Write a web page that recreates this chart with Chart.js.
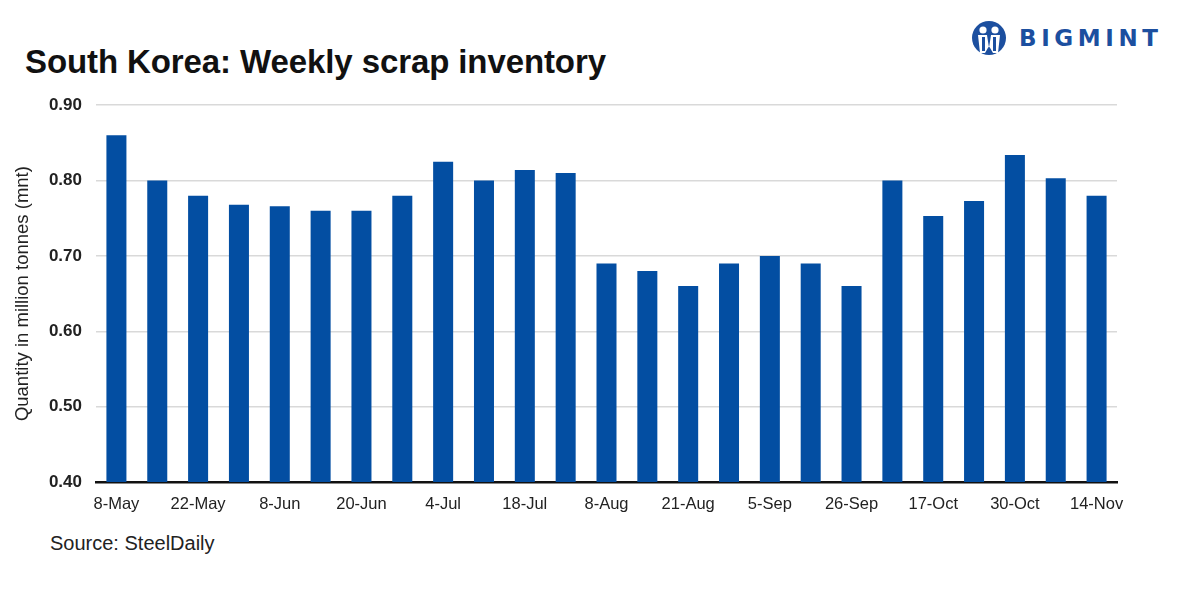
<!DOCTYPE html>
<html>
<head>
<meta charset="utf-8">
<script src="https://cdn.jsdelivr.net/npm/chart.js@4"></script>
<style>
    body { margin: 0; width: 1181px; height: 590px; background: #fff; position: relative; overflow: hidden; font-family: 'Liberation Sans', Arial, sans-serif; }
    #title { position: absolute; left: 25px; top: 43px; font-size: 33px; font-weight: bold; color: #111; letter-spacing: -0.1px; }
    #source { position: absolute; left: 50px; top: 532px; font-size: 20px; color: #222; }
    #logo { position: absolute; left: 971px; top: 20px; display: flex; align-items: center; }
    #logo span { font-size: 23px; font-weight: bold; color: #1c4f9f; letter-spacing: 4.6px; margin-left: 12px; font-family: 'DejaVu Sans', sans-serif; }
    #wrap { position: absolute; left: 0; top: 81px; width: 1181px; height: 439px; }
</style>
</head>
<body>
<div id="title">South Korea: Weekly scrap inventory</div>
<div id="logo">
    <svg width="36" height="36" viewBox="0 0 36 36">
        <circle cx="18" cy="18" r="17" fill="#1c4f9f"/>
        <circle cx="12" cy="10" r="3.6" fill="#fff"/>
        <circle cx="24" cy="10" r="3.6" fill="#fff"/>
        <path d="M7 15 L16 15 L18 28 L20 15 L29 15 L27 33 L22 33 L18 26 L14 33 L9 33 Z" fill="#fff"/>
        <path d="M11 17 L14 17 L14 31 L11 31 Z M22 17 L25 17 L25 31 L22 31 Z" fill="#1c4f9f"/>
    </svg>
    <span>BIGMINT</span>
</div>
<div id="wrap"><canvas id="chart"></canvas></div>
<div id="source">Source: SteelDaily</div>
<script>
// 주간 날짜 (레이블 없는 주는 빈 문자열)
const weeks = ['8-May', '', '22-May', '', '8-Jun', '', '20-Jun', '', '4-Jul', '', '18-Jul', '', '8-Aug',
    '', '21-Aug', '', '5-Sep', '', '26-Sep', '', '17-Oct', '', '30-Oct', '', '14-Nov'];
const inventory = [0.86, 0.80, 0.78, 0.768, 0.766, 0.76, 0.76, 0.78, 0.825, 0.80, 0.814, 0.81, 0.69,
    0.68, 0.66, 0.69, 0.70, 0.69, 0.66, 0.80, 0.753, 0.773, 0.834, 0.803, 0.78];
const yTicks = [0.40, 0.50, 0.60, 0.70, 0.80, 0.90];

const ctx = document.getElementById('chart');
new Chart(ctx, {
    type: 'bar',
    data: {
        labels: weeks,
        datasets: [{
            label: 'Inventory',
            data: inventory,
            backgroundColor: '#034ea2',
            categoryPercentage: 1,
            barPercentage: 0.49
        }]
    },
    options: {
        responsive: true,
        maintainAspectRatio: false,
        animation: false,
        layout: { padding: { left: 12, right: 64, top: 6, bottom: 8 } },
        plugins: {
            legend: { display: false },
            tooltip: { enabled: false }
        },
        scales: {
            x: {
                grid: { display: false },
                border: { display: true, color: '#111', width: 2.5 },
                ticks: {
                    autoSkip: false,
                    maxRotation: 0,
                    padding: 5,
                    color: '#222',
                    font: { family: "'Liberation Sans', Arial, sans-serif", size: 16.5 }
                },
                afterFit: (scale) => { scale.height = 30; }
            },
            y: {
                min: yTicks[0],
                max: yTicks[yTicks.length - 1],
                afterBuildTicks: (scale) => { scale.ticks = yTicks.map(v => ({ value: v })); },
                grid: { color: '#d9d9d9', lineWidth: 1.5, drawTicks: false },
                border: { display: false },
                ticks: {
                    padding: 14,
                    color: '#222',
                    font: { family: "'Liberation Sans', Arial, sans-serif", size: 17, weight: 'bold' },
                    callback: (v) => Number(v).toFixed(2)
                },
                title: {
                    display: true,
                    text: 'Quantity in million tonnes (mnt)',
                    color: '#222',
                    padding: { top: 0, bottom: 4 },
                    font: { family: "'Liberation Sans', Arial, sans-serif", size: 18.5 }
                },
                afterFit: (scale) => { scale.width = 84; }
            }
        }
    }
});
</script>
</body>
</html>
